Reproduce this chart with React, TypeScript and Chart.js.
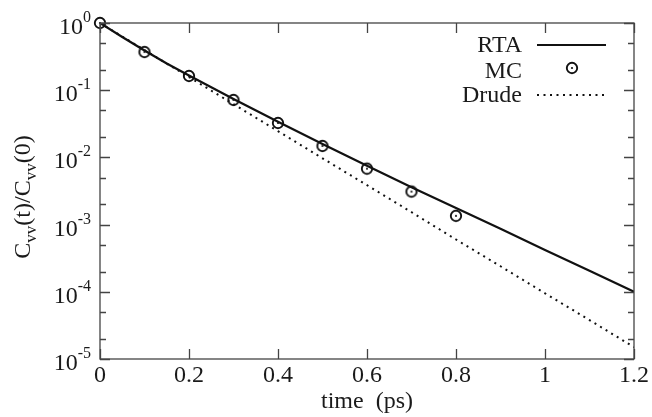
import React, { useEffect, useRef } from "react";
import { Chart, registerables } from "chart.js";

Chart.register(...registerables);

const rtaT = [0, 0.05, 0.1, 0.15, 0.2, 0.3, 0.4, 0.5, 0.6, 0.7, 0.8, 0.9, 1.0, 1.1, 1.2];
const rtaV = [1, 0.62, 0.39, 0.25, 0.165, 0.074, 0.034, 0.0158, 0.0075, 0.0036, 0.00177, 0.00087, 0.00042, 0.000205, 0.0001];
const mcT = [0, 0.1, 0.2, 0.3, 0.4, 0.5, 0.6, 0.7, 0.8];
const mcV = [1, 0.37, 0.163, 0.0715, 0.0325, 0.0148, 0.0068, 0.0031, 0.00135];
const drudeT = [0, 0.1, 0.2, 0.3, 0.4, 0.5, 0.6, 0.7, 0.8, 0.9, 1.0, 1.1, 1.2];
const drudeV = [1, 0.396, 0.157, 0.062, 0.0246, 0.0097, 0.00386, 0.00153, 0.0006, 0.00024, 0.000095, 0.000038, 0.000015];
const xTicks = [0, 0.2, 0.4, 0.6, 0.8, 1, 1.2];
const xTickLabels = ["0", "0.2", "0.4", "0.6", "0.8", "1", "1.2"];
const yDecades = [-5, -4, -3, -2, -1, 0];
const legendLabels = ["RTA", "MC", "Drude"];

const FONT = '"Liberation Serif", "Times New Roman", serif';
const INK = "#111";
const BIG = 24;
const SMALL = 16;

function makeMarker(): HTMLCanvasElement {
  const c = document.createElement("canvas");
  c.width = 16;
  c.height = 16;
  const g = c.getContext("2d")!;
  g.strokeStyle = INK;
  g.lineWidth = 1.9;
  g.beginPath();
  g.arc(8, 8, 5.2, 0, Math.PI * 2);
  g.fillStyle = "#fff";
  g.fill();
  g.stroke();
  g.fillStyle = INK;
  g.beginPath();
  g.arc(8, 8, 1.1, 0, Math.PI * 2);
  g.fill();
  return c;
}

let markerCanvas: HTMLCanvasElement | null = null;
function getMarker() {
  if (!markerCanvas) markerCanvas = makeMarker();
  return markerCanvas;
}

const overlay = {
  id: "overlay",
  afterDraw(chart: any) {
    const ctx = chart.ctx as CanvasRenderingContext2D;
    const { left, right, top, bottom } = chart.chartArea;
    const xs = chart.scales.x;
    const ys = chart.scales.y;
    ctx.save();
    // frame
    ctx.strokeStyle = "#444";
    ctx.lineWidth = 1.3;
    ctx.strokeRect(left, top, right - left, bottom - top);
    // x ticks
    ctx.beginPath();
    xTicks.forEach((v) => {
      const px = Math.round(xs.getPixelForValue(v)) + 0.5;
      ctx.moveTo(px, bottom);
      ctx.lineTo(px, bottom - 10);
      ctx.moveTo(px, top);
      ctx.lineTo(px, top + 10);
    });
    // y ticks
    yDecades.forEach((d) => {
      const py = Math.round(ys.getPixelForValue(Math.pow(10, d))) + 0.5;
      ctx.moveTo(left, py);
      ctx.lineTo(left + 10, py);
      ctx.moveTo(right, py);
      ctx.lineTo(right - 10, py);
      if (d < 0) {
        [2, 5].forEach((m) => {
          const pm = Math.round(ys.getPixelForValue(m * Math.pow(10, d))) + 0.5;
          ctx.moveTo(left, pm);
          ctx.lineTo(left + 6, pm);
          ctx.moveTo(right, pm);
          ctx.lineTo(right - 6, pm);
        });
      }
    });
    ctx.stroke();

    ctx.fillStyle = "#1a1a1a";
    // x tick labels
    ctx.font = `${BIG}px ${FONT}`;
    ctx.textAlign = "center";
    ctx.textBaseline = "alphabetic";
    xTicks.forEach((v, i) => {
      ctx.fillText(xTickLabels[i], xs.getPixelForValue(v), bottom + 23);
    });
    // y tick labels
    yDecades.forEach((d) => {
      const py = ys.getPixelForValue(Math.pow(10, d));
      const sup = String(d);
      ctx.font = `${SMALL}px ${FONT}`;
      const sw = ctx.measureText(sup).width;
      const rx = left - 9;
      ctx.textAlign = "left";
      ctx.fillText(sup, rx - sw, py - 1);
      ctx.font = `${BIG}px ${FONT}`;
      ctx.textAlign = "right";
      ctx.fillText("10", rx - sw, py + 11);
    });
    // x title
    ctx.font = `${BIG}px ${FONT}`;
    ctx.textAlign = "center";
    ctx.fillText("time  (ps)", 367, bottom + 49);
    // y title
    const parts: [string, boolean][] = [
      ["C", false], ["vv", true], ["(t)/C", false], ["vv", true], ["(0)", false],
    ];
    let total = 0;
    const widths = parts.map(([t, s]) => {
      ctx.font = `${s ? 17 : BIG}px ${FONT}`;
      const w = ctx.measureText(t).width;
      total += w;
      return w;
    });
    ctx.save();
    ctx.translate(30, 197);
    ctx.rotate(-Math.PI / 2);
    ctx.textAlign = "left";
    let cx = -total / 2;
    parts.forEach(([t, s], i) => {
      ctx.font = `${s ? 17 : BIG}px ${FONT}`;
      ctx.fillText(t, cx, s ? 6 : 0);
      cx += widths[i];
    });
    ctx.restore();

    // legend
    const tx = 522;
    const baselines = [52, 78, 102];
    ctx.font = `${BIG}px ${FONT}`;
    ctx.textAlign = "right";
    legendLabels.forEach((lab, i) => {
      ctx.fillText(lab, tx, baselines[i]);
    });
    ctx.strokeStyle = INK;
    ctx.lineWidth = 2;
    ctx.beginPath();
    ctx.moveTo(537, 45);
    ctx.lineTo(606, 45);
    ctx.stroke();
    ctx.drawImage(getMarker(), 572 - 8, 68 - 8);
    ctx.setLineDash([2, 4.5]);
    ctx.beginPath();
    ctx.moveTo(537, 95);
    ctx.lineTo(606, 95);
    ctx.stroke();
    ctx.restore();
  },
};

export default function App() {
  const ref = useRef<HTMLCanvasElement>(null);
  useEffect(() => {
    document.body.style.margin = "0";
    const marker = getMarker();
    const chart: any = new Chart(ref.current!, {
      type: "line",
      data: {
        datasets: [
          {
            label: "Drude",
            data: drudeT.map((t, i) => ({ x: t, y: drudeV[i] })),
            borderColor: INK,
            borderWidth: 2,
            borderDash: [2, 4.5],
            pointRadius: 0,
            fill: false,
          },
          {
            label: "RTA",
            data: rtaT.map((t, i) => ({ x: t, y: rtaV[i] })),
            borderColor: INK,
            borderWidth: 2.2,
            pointRadius: 0,
            fill: false,
          },
          {
            label: "MC",
            data: mcT.map((t, i) => ({ x: t, y: mcV[i] })),
            showLine: false,
            pointStyle: marker,
            pointRadius: 6,
            clip: false as any,
          },
        ],
      },
      options: {
        animation: false,
        responsive: false,
        events: [],
        layout: { padding: { left: 100, top: 23, right: 18, bottom: 58 } },
        plugins: { legend: { display: false }, tooltip: { enabled: false } },
        scales: {
          x: { type: "linear", min: 0, max: 1.2, display: false },
          y: { type: "logarithmic", min: 1e-5, max: 1, display: false },
        },
      },
      plugins: [overlay],
    });
    return () => chart.destroy();
  }, []);
  return (
    <div style={{ position: "absolute", left: 0, top: 0, width: 652, height: 417, background: "#fff" }}>
      <canvas ref={ref} width={652} height={417} />
    </div>
  );
}
